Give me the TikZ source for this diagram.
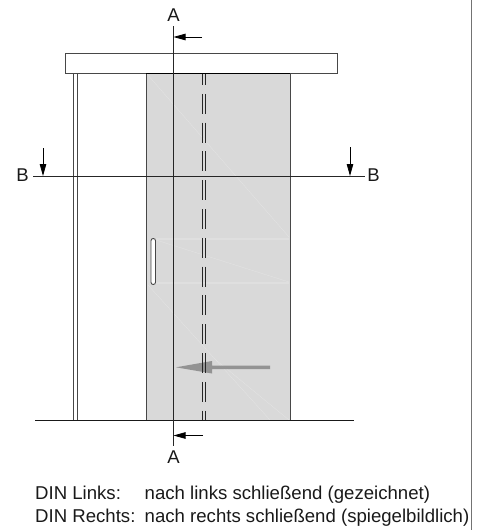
\documentclass[tikz,border=0pt]{standalone}
\usepackage{fontspec}
\setmainfont{Liberation Sans}
\usetikzlibrary{arrows.meta}
\definecolor{glass}{gray}{0.85}
\definecolor{glint}{gray}{0.875}
\definecolor{edge}{gray}{0.28}
\tikzset{
  x=1pt,y=-1pt,
  part/.style={draw=edge,line width=0.9pt},
  sectionline/.style={draw=black!85,line width=0.7pt},
  cutarrow/.style={draw=black,line width=0.8pt,-{Triangle[length=12pt,width=6.5pt]}},
  hiddenline/.style={draw=black!85,line width=0.8pt,dash pattern=on 20pt off 8.8pt,dash phase=9pt},
  lab/.style={font=\fontsize{18.5}{18.5}\selectfont,inner sep=0pt,text=black!90},
  txt/.style={font=\fontsize{18.6}{18.6}\selectfont,inner sep=0pt,anchor=base west,text=black!90},
  sheen/.style={draw=white,line width=0.3pt,opacity=0.3}
}
\begin{document}
\begin{tikzpicture}
\useasboundingbox (0,0) rectangle (483,530);
% right border
\draw[draw=black!55,line width=1pt] (471,0) -- (471,530);
% door leaf
\fill[glass] (146,74) rectangle (290,420);
\draw[sheen] (147,74) -- (289,237);
\draw[sheen] (156,240) -- (289,282);
\draw[sheen] (148,285) -- (270,420);
\draw[sheen] (216,360) -- (289,420);
\draw[glint,line width=2pt] (156,239) -- (289,239);
\draw[glint,line width=2pt] (155,283) -- (289,283);
\draw[part] (146,74) -- (146,420) (290,74) -- (290,420);
% gray motion arrow
\fill[black!45,opacity=.9] (270,365.6) -- (212,365.6) -- (212,361) -- (176,367.3) -- (212,373.5) -- (212,369) -- (270,369) -- cycle;
% hidden lines
\draw[hiddenline] (202,74) -- (202,420);
\draw[hiddenline] (205.6,74) -- (205.6,420);
% handle
\draw[part,fill=white,rounded corners=2.2pt] (151,238.5) rectangle (155.5,284.5);
% frame
\draw[part] (73.5,74) -- (73.5,420) (77.5,74) -- (77.5,420);
% header
\draw[part,fill=white] (65.5,53.7) rectangle (337.5,73.7);
\draw[draw=black,line width=0.9pt] (146,73.7) -- (290,73.7);
% floor
\draw[draw=black!90,line width=0.9pt] (35,420) -- (354,420);
% section lines
\coordinate (at) at (173,26);
\coordinate (ab) at (173,446);
\coordinate (bl) at (33,176);
\coordinate (br) at (365,176);
\draw[sectionline] (at) -- (ab);
\draw[sectionline] (bl) -- (br);
% cut arrows
\coordinate (a1s) at (202,37); \coordinate (a1e) at (173.5,37);
\coordinate (a2s) at (203,435.5); \coordinate (a2e) at (173.5,435.5);
\coordinate (b1s) at (43,148); \coordinate (b1e) at (43,176);
\coordinate (b2s) at (350,147); \coordinate (b2e) at (350,176);
\draw[cutarrow] (a1s) -- (a1e);
\draw[cutarrow] (a2s) -- (a2e);
\draw[cutarrow] (b1s) -- (b1e);
\draw[cutarrow] (b2s) -- (b2e);
% labels
\node[lab] (la) at (173.5,15.5) {A};
\node[lab] (lb) at (173.5,457.5) {A};
\node[lab] (lc) at (22.5,175.5) {B};
\node[lab] (ld) at (373.5,175.5) {B};
\node[txt] (t1) at (35,499) {DIN Links:};
\node[txt] (t2) at (144.5,499) {nach links schließend (gezeichnet)};
\node[txt] (t3) at (35,522) {DIN Rechts:};
\node[txt] (t4) at (144.5,522) {nach rechts schließend (spiegelbildlich)};
\end{tikzpicture}
\end{document}
